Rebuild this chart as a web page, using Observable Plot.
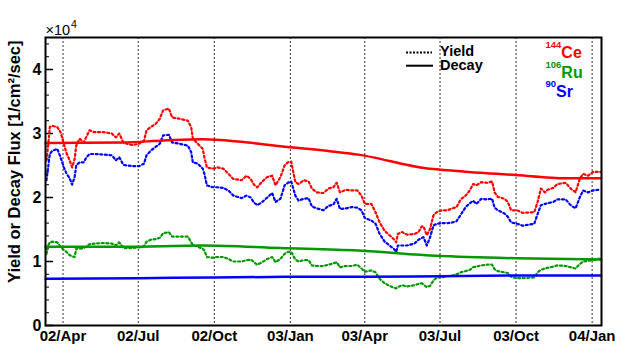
<!DOCTYPE html>
<html>
<head>
<meta charset="utf-8">
<script src="https://cdn.jsdelivr.net/npm/d3@7"></script>
<script src="https://cdn.jsdelivr.net/npm/@observablehq/plot@0.6"></script>
<style>
  body { margin: 0; background: #fff; }
  #chart { width: 640px; height: 360px; }
</style>
</head>
<body>
<div id="chart"></div>
<script>
// ---- data (flux values in units of 1e4 /cm^2/sec) ----
const yieldDates = [
"2002-03-12","2002-03-14","2002-03-16","2002-03-19","2002-03-25","2002-03-29","2002-04-02","2002-04-05","2002-04-09","2002-04-12",
"2002-04-15","2002-04-17","2002-04-21","2002-04-26","2002-04-29","2002-05-03","2002-05-09","2002-05-21","2002-05-30","2002-06-04",
"2002-06-08","2002-06-13","2002-06-17","2002-06-24","2002-07-02","2002-07-08","2002-07-11","2002-07-16","2002-07-22","2002-07-27",
"2002-07-31","2002-08-07","2002-08-11","2002-08-20","2002-08-30","2002-09-03","2002-09-05","2002-09-11","2002-09-17","2002-09-19",
"2002-09-22","2002-09-29","2002-10-05","2002-10-12","2002-10-18","2002-10-24","2002-11-03","2002-11-09","2002-11-14","2002-11-18",
"2002-11-22","2002-11-28","2002-12-04","2002-12-10","2002-12-14","2002-12-20","2002-12-25","2002-12-29","2003-01-02","2003-01-07",
"2003-01-11","2003-01-17","2003-01-23","2003-01-27","2003-02-02","2003-02-10","2003-02-16","2003-02-22","2003-02-26","2003-03-02",
"2003-03-09","2003-03-16","2003-03-23","2003-03-28","2003-04-01","2003-04-09","2003-04-14","2003-04-19","2003-04-25","2003-05-01",
"2003-05-06","2003-05-09","2003-05-11","2003-05-16","2003-05-22","2003-05-31","2003-06-05","2003-06-09","2003-06-11","2003-06-15",
"2003-06-19","2003-06-23","2003-06-27","2003-07-03","2003-07-10","2003-07-16","2003-07-21","2003-07-26","2003-08-01","2003-08-06",
"2003-08-10","2003-08-14","2003-08-20","2003-08-27","2003-09-02","2003-09-05","2003-09-09","2003-09-17","2003-09-21","2003-09-25",
"2003-10-02","2003-10-09","2003-10-23","2003-10-27","2003-10-31","2003-11-05","2003-11-08","2003-11-15","2003-11-20","2003-11-30",
"2003-12-06","2003-12-12","2003-12-17","2003-12-21","2003-12-27","2004-01-02","2004-01-08","2004-01-11"];

const ceYield = [
2.58,2.81,3.10,3.12,3.10,3.02,2.84,2.70,2.58,2.47,
2.60,2.81,2.92,2.86,2.94,3.05,3.02,3.02,3.00,2.94,
3.00,2.86,2.84,2.82,2.84,2.89,3.05,3.10,3.15,3.23,
3.36,3.39,3.25,3.23,3.20,3.10,2.92,2.84,2.76,2.63,
2.47,2.45,2.47,2.45,2.37,2.29,2.27,2.34,2.29,2.20,
2.16,2.25,2.32,2.34,2.19,2.32,2.50,2.55,2.56,2.24,
2.21,2.27,2.25,2.14,2.08,2.07,2.14,2.16,2.23,2.08,
2.12,2.11,2.11,2.03,1.90,1.90,1.77,1.61,1.48,1.41,
1.35,1.30,1.43,1.46,1.42,1.43,1.46,1.55,1.55,1.41,
1.51,1.72,1.77,1.80,1.80,1.83,1.85,1.97,2.03,2.11,
2.21,2.19,2.24,2.23,2.25,2.08,2.01,1.98,1.93,1.80,
1.80,1.76,1.77,1.93,2.14,2.08,2.12,2.15,2.21,2.23,
2.14,2.08,2.29,2.37,2.34,2.40,2.40,2.40];

const ruYield = [
1.12,1.25,1.30,1.31,1.30,1.23,1.18,1.15,1.10,1.08,
1.07,1.20,1.20,1.21,1.23,1.27,1.28,1.29,1.28,1.25,
1.30,1.21,1.21,1.21,1.22,1.24,1.31,1.34,1.35,1.37,
1.44,1.46,1.39,1.39,1.39,1.30,1.26,1.23,1.20,1.17,
1.07,1.06,1.07,1.07,1.04,1.00,1.00,1.02,1.03,0.99,
0.95,0.99,1.04,1.07,0.99,1.04,1.12,1.15,1.15,1.03,
1.00,1.02,1.02,0.94,0.93,0.93,0.95,0.97,0.99,0.91,
0.93,0.93,0.95,0.89,0.84,0.86,0.83,0.73,0.66,0.62,
0.59,0.58,0.60,0.63,0.61,0.63,0.65,0.66,0.64,0.60,
0.62,0.70,0.75,0.75,0.77,0.78,0.80,0.83,0.85,0.87,
0.91,0.92,0.94,0.95,0.95,0.88,0.85,0.83,0.82,0.76,
0.74,0.74,0.75,0.83,0.87,0.89,0.90,0.92,0.94,0.93,
0.91,0.89,0.96,1.00,1.01,1.02,1.04,1.04];

const srYield = [
2.27,2.47,2.68,2.73,2.76,2.63,2.47,2.38,2.30,2.20,
2.32,2.50,2.55,2.55,2.62,2.68,2.68,2.67,2.66,2.58,
2.63,2.51,2.50,2.49,2.49,2.53,2.66,2.73,2.79,2.84,
2.97,2.98,2.86,2.84,2.81,2.71,2.55,2.53,2.45,2.37,
2.19,2.16,2.16,2.15,2.11,2.03,1.99,2.03,2.00,1.92,
1.88,1.93,2.00,2.07,1.93,1.98,2.19,2.23,2.25,2.03,
1.95,1.98,1.99,1.86,1.83,1.80,1.87,1.89,1.98,1.82,
1.83,1.85,1.84,1.80,1.68,1.64,1.59,1.43,1.31,1.25,
1.20,1.15,1.25,1.25,1.25,1.28,1.34,1.37,1.38,1.25,
1.38,1.56,1.59,1.60,1.60,1.61,1.63,1.73,1.85,1.91,
1.95,1.90,1.98,1.97,1.98,1.84,1.80,1.75,1.70,1.61,
1.59,1.56,1.59,1.74,1.88,1.90,1.91,1.93,1.97,1.97,
1.88,1.83,2.00,2.11,2.08,2.11,2.12,2.12];

const ceDecayDates = ["2002-03-11","2002-06-12","2002-08-01","2002-09-17","2002-11-02","2002-12-20","2003-02-20","2003-03-24","2003-04-21","2003-05-14","2003-06-07","2003-06-27","2003-08-13","2003-10-01","2003-10-31","2003-11-26","2004-01-12"];
const ceDecay = [2.85,2.86,2.89,2.91,2.87,2.80,2.72,2.67,2.60,2.53,2.47,2.44,2.39,2.35,2.32,2.30,2.30];

const ruDecayDates = ["2002-03-11","2002-06-12","2002-09-17","2002-12-20","2003-03-24","2003-06-27","2003-10-01","2004-01-12"];
const ruDecay = [1.23,1.23,1.25,1.21,1.17,1.09,1.05,1.03];

const srDecayDates = ["2002-03-11","2002-07-01","2002-10-01","2003-01-01","2003-04-01","2003-07-01","2003-10-01","2004-01-12"];
const srDecay = [0.73,0.74,0.75,0.76,0.76,0.77,0.78,0.78];

const xTickDates = ["2002-04-01","2002-07-01","2002-10-01","2003-01-01","2003-04-01","2003-07-01","2003-10-01","2004-01-01"];
const xTickLabels = ["02/Apr","02/Jul","02/Oct","03/Jan","03/Apr","03/Jul","03/Oct","04/Jan"];
const yTicks = [0, 1, 2, 3, 4];
const yTickLabels = ["0", "1", "2", "3", "4"];
const yTitle = "Yield or Decay Flux [1/cm\u00B2/sec]";

const colors = { ce: "#ff0000", ru: "#009900", sr: "#0000ff" };

// ---- build ----
const parse = d3.utcParse("%Y-%m-%d");
const rows = (dates, vals) => dates.map((d, i) => ({ date: parse(d), v: vals[i] }));
const ceY = rows(yieldDates, ceYield), ruY = rows(yieldDates, ruYield), srY = rows(yieldDates, srYield);
const ceD = rows(ceDecayDates, ceDecay), ruD = rows(ruDecayDates, ruDecay), srD = rows(srDecayDates, srDecay);
const xTicks = xTickDates.map(parse);
const xLabelOf = new Map(xTicks.map((d, i) => [+d, xTickLabels[i]]));
const yLabelOf = new Map(yTicks.map((d, i) => [d, yTickLabels[i]]));
const minorY = d3.range(0, 4.5, 0.2).filter(v => Math.abs(v - Math.round(v)) > 1e-6);

const W = 640, H = 360, mL = 45, mR = 39, mT = 37, mB = 35;
const innerW = W - mL - mR;
const FONT = "Liberation Sans, Arial, Helvetica, sans-serif";
const DOT = "2,2.6";

const chart = Plot.plot({
  width: W, height: H,
  marginLeft: mL, marginRight: mR, marginTop: mT, marginBottom: mB,
  style: { fontFamily: FONT, background: "#fff", color: "#000" },
  x: { type: "utc", domain: [new Date(Date.UTC(2002, 2, 10, 19)), new Date(Date.UTC(2004, 0, 12, 8))] },
  y: { domain: [0, 4.5] },
  marks: [
    Plot.ruleX(xTicks, { stroke: "#333", strokeWidth: 1, strokeDasharray: "2,2" }),
    Plot.tickY(minorY, { y: d => d, insetRight: innerW - 4, stroke: "#000", strokeWidth: 1 }),
    Plot.tickY(yTicks, { y: d => d, insetRight: innerW - 8, stroke: "#000", strokeWidth: 1.5 }),
    Plot.lineY(ceY, { x: "date", y: "v", stroke: colors.ce, strokeWidth: 2.2, strokeDasharray: DOT }),
    Plot.lineY(srY, { x: "date", y: "v", stroke: colors.sr, strokeWidth: 2.2, strokeDasharray: DOT }),
    Plot.lineY(ruY, { x: "date", y: "v", stroke: colors.ru, strokeWidth: 2.2, strokeDasharray: DOT }),
    Plot.lineY(ceD, { x: "date", y: "v", stroke: colors.ce, strokeWidth: 2.5, curve: "monotone-x" }),
    Plot.lineY(ruD, { x: "date", y: "v", stroke: colors.ru, strokeWidth: 2.5, curve: "monotone-x" }),
    Plot.lineY(srD, { x: "date", y: "v", stroke: colors.sr, strokeWidth: 2.5, curve: "monotone-x" }),
    Plot.axisY({ ticks: yTicks, tickSize: 0, tickPadding: 4, tickFormat: d => yLabelOf.get(d), fontSize: 16, fontWeight: "bold", label: null }),
    Plot.axisX({ ticks: xTicks, tickSize: 0, tickPadding: 5, tickFormat: d => xLabelOf.get(+d), fontSize: 15, fontWeight: "bold", label: null }),
    Plot.text([yTitle], { text: d => d, frameAnchor: "top-left", rotate: -90, textAnchor: "end", lineAnchor: "middle", dx: -31, dy: 3, fontSize: 16.5, fontWeight: "bold", fill: "#000" }),
    Plot.text(["\u00D710"], { text: d => d, frameAnchor: "top-left", textAnchor: "start", lineAnchor: "bottom", dx: 0, dy: -3, fontSize: 14.5, fill: "#000" }),
    Plot.text(["4"], { text: d => d, frameAnchor: "top-left", textAnchor: "start", lineAnchor: "bottom", dx: 25.5, dy: -10, fontSize: 10.5, fill: "#000" }),
    Plot.frame({ stroke: "#000", strokeWidth: 2 })
  ]
});
document.getElementById("chart").appendChild(chart);

// ---- legends ----
const svg = d3.select(chart);
const ann = svg.append("g").attr("font-family", FONT).attr("text-anchor", "start");

// line-style legend
ann.append("line").attr("x1", 406).attr("x2", 432).attr("y1", 52.5).attr("y2", 52.5)
  .attr("stroke", "#000").attr("stroke-width", 2).attr("stroke-dasharray", "2,1.5");
ann.append("line").attr("x1", 406).attr("x2", 433).attr("y1", 65.7).attr("y2", 65.7)
  .attr("stroke", "#000").attr("stroke-width", 2);
ann.append("text").attr("x", 440).attr("y", 56).attr("font-size", 14.5).attr("font-weight", "bold").attr("fill", "#000").text("Yield");
ann.append("text").attr("x", 440).attr("y", 70).attr("font-size", 14.5).attr("font-weight", "bold").attr("fill", "#000").text("Decay");

// isotope legend
const iso = [
  { mass: "144", el: "Ce", color: colors.ce, y: 58.3 },
  { mass: "106", el: "Ru", color: colors.ru, y: 77.5 },
  { mass: "90",  el: "Sr", color: colors.sr, y: 96.7 }
];
iso.forEach(d => {
  const t = ann.append("text").attr("x", 545.5).attr("y", d.y).attr("fill", d.color).attr("font-weight", "bold");
  t.append("tspan").attr("font-size", 9.5).attr("dy", -10).text(d.mass);
  t.append("tspan").attr("font-size", 16).attr("dy", 10).text(d.el);
});
</script>
</body>
</html>
